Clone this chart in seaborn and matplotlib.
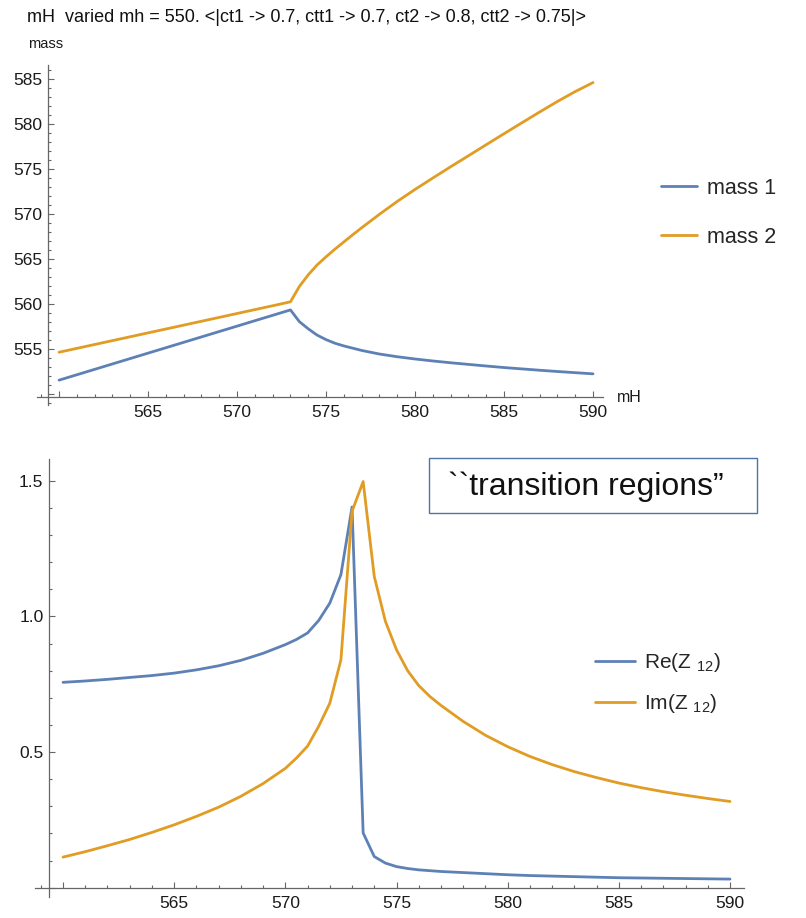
import numpy as np
import pandas as pd
import matplotlib
matplotlib.use("Agg")
import matplotlib.pyplot as plt
import seaborn as sns
from matplotlib.ticker import FixedLocator, MultipleLocator, FuncFormatter
from matplotlib.patches import Rectangle

# ---------------- data ----------------
mH = [560, 561, 562, 563, 564, 565, 566, 567, 568, 569, 570,
      570.5, 571, 571.5, 572, 572.5, 573, 573.5, 574, 574.5, 575, 575.5, 576, 576.5,
      577, 578, 579, 580, 581, 582, 583, 584, 585, 586, 587, 588, 589, 590]

mass1 = [551.5, 552.1, 552.7, 553.3, 553.9, 554.5, 555.1, 555.7, 556.3, 556.9, 557.5,
         557.8, 558.1, 558.4, 558.7, 559.0, 559.3, 558.0, 557.2, 556.5, 556.0, 555.6, 555.3, 555.05,
         554.8, 554.4, 554.1, 553.85, 553.63, 553.43, 553.25, 553.07, 552.9, 552.75, 552.6, 552.46, 552.33, 552.2]

mass2 = [554.6, 555.03, 555.46, 555.89, 556.32, 556.75, 557.18, 557.61, 558.04, 558.47, 558.9,
         559.12, 559.33, 559.55, 559.76, 559.98, 560.2, 561.9, 563.2, 564.3, 565.2, 566.05, 566.85, 567.65,
         568.42, 569.92, 571.35, 572.68, 573.95, 575.2, 576.42, 577.65, 578.87, 580.08, 581.28, 582.45, 583.55, 584.55]

re_z12 = [0.757, 0.762, 0.768, 0.775, 0.782, 0.791, 0.803, 0.818, 0.838, 0.864, 0.896,
          0.915, 0.939, 0.985, 1.049, 1.154, 1.403, 0.202, 0.115, 0.091, 0.078, 0.071, 0.066, 0.063,
          0.060, 0.056, 0.052, 0.048, 0.045, 0.043, 0.041, 0.039, 0.037, 0.036, 0.035, 0.034, 0.033, 0.032]

im_z12 = [0.113, 0.133, 0.155, 0.178, 0.204, 0.232, 0.263, 0.297, 0.337, 0.384, 0.440,
          0.478, 0.522, 0.595, 0.680, 0.840, 1.387, 1.497, 1.147, 0.982, 0.877, 0.800, 0.745, 0.705,
          0.672, 0.613, 0.562, 0.520, 0.484, 0.454, 0.428, 0.406, 0.386, 0.369, 0.354, 0.341, 0.329, 0.318]

top_labels = ["mass 1", "mass 2"]
bottom_labels = ["Re(Z $_{12}$)", "Im(Z $_{12}$)"]
title_text = "mH  varied mh = 550. <|ct1 -> 0.7, ctt1 -> 0.7, ct2 -> 0.8, ctt2 -> 0.75|>"
box_text = "``transition regions\u201d"

BLUE = "#5E81B5"
ORANGE = "#E19C24"
AXC = "#666666"

# ---------------- style ----------------
sns.set_theme(style="white")
plt.rcParams["font.family"] = ["Liberation Sans", "DejaVu Sans"]
plt.rcParams["mathtext.fontset"] = "custom"
plt.rcParams["mathtext.rm"] = "Liberation Sans"
plt.rcParams["mathtext.it"] = "Liberation Sans"
plt.rcParams["mathtext.default"] = "regular"

W, H = 806, 918
fig = plt.figure(figsize=(W / 100, H / 100), dpi=100)


def fx(px):
    return px / W


def fy(py):
    return 1 - py / H


ax1 = fig.add_axes([fx(37), fy(405), fx(603) - fx(37), fy(65) - fy(405)])
ax2 = fig.add_axes([fx(35), fy(897), fx(744) - fx(35), fy(459) - fy(897)])

df_top = pd.DataFrame({
    "mH": mH * 2,
    "value": mass1 + mass2,
    "series": [top_labels[0]] * len(mH) + [top_labels[1]] * len(mH),
})
df_bot = pd.DataFrame({
    "mH": mH * 2,
    "value": re_z12 + im_z12,
    "series": [bottom_labels[0]] * len(mH) + [bottom_labels[1]] * len(mH),
})

sns.lineplot(data=df_top, x="mH", y="value", hue="series", palette=[BLUE, ORANGE],
             ax=ax1, linewidth=2.0, legend=False, sort=False)
sns.lineplot(data=df_bot, x="mH", y="value", hue="series", palette=[BLUE, ORANGE],
             ax=ax2, linewidth=2.0, legend=False, sort=False)


def style_axes(ax, xlim, ylim, xorig, yorig, xmajor, ymajor, xlabels_skip, ylabels_skip,
               yminor, yfmt):
    ax.set_xlim(*xlim)
    ax.set_ylim(*ylim)
    ax.set_xlabel("")
    ax.set_ylabel("")
    ax.patch.set_alpha(0)
    for s in ["top", "right"]:
        ax.spines[s].set_visible(False)
    ax.spines["left"].set_position(("data", xorig))
    ax.spines["bottom"].set_position(("data", yorig))
    for s in ["left", "bottom"]:
        ax.spines[s].set_color(AXC)
        ax.spines[s].set_linewidth(0.9)
    ax.xaxis.set_major_locator(FixedLocator(xmajor))
    ax.yaxis.set_major_locator(FixedLocator(ymajor))
    ax.xaxis.set_minor_locator(MultipleLocator(1))
    ax.yaxis.set_minor_locator(MultipleLocator(yminor))
    ax.xaxis.set_major_formatter(FuncFormatter(lambda v, p: "" if v in xlabels_skip else f"{v:g}"))
    ax.yaxis.set_major_formatter(FuncFormatter(lambda v, p: "" if v in ylabels_skip else yfmt(v)))
    ax.tick_params(which="both", direction="in", color=AXC, width=0.8, labelsize=12.5,
                   labelcolor="#1a1a1a", bottom=True, left=True)
    ax.tick_params(which="major", length=4.5)
    ax.tick_params(which="minor", length=2.5)
    ax.tick_params(axis="x", which="major", pad=6)
    ax.tick_params(axis="y", which="major", pad=4)
    ax.grid(False)


style_axes(ax1, (558.76, 590.56), (548.74, 586.5), 559.37, 549.63,
           [560, 565, 570, 575, 580, 585, 590], [550, 555, 560, 565, 570, 575, 580, 585],
           [560], [550], 1, lambda v: f"{v:g}")
style_axes(ax2, (558.74, 590.63), (-0.034, 1.58), 559.37, 0.0,
           [560, 565, 570, 575, 580, 585, 590], [0.0, 0.5, 1.0, 1.5],
           [560], [0.0], 0.1, lambda v: f"{v:.1f}")

# texts
fig.text(fx(27), fy(18), title_text, fontsize=13, va="center", ha="left", color="#111111")
fig.text(fx(28), fy(44), "mass", fontsize=10.5, va="center", ha="left", color="#1a1a1a")
fig.text(fx(617), fy(397), "mH", fontsize=11.5, va="center", ha="left", color="#1a1a1a")

# legends
h1 = ax1.get_lines()[:2]
fig.legend(h1, top_labels, loc="center left", bbox_to_anchor=(fx(661), fy(213)),
           frameon=False, fontsize=15.5, handlelength=1.65, handletextpad=0.5,
           labelspacing=1.3, borderpad=0, borderaxespad=0)
h2 = ax2.get_lines()[:2]
fig.legend(h2, bottom_labels, loc="center left", bbox_to_anchor=(fx(595), fy(683)),
           frameon=False, fontsize=15, handlelength=1.9, handletextpad=0.45,
           labelspacing=0.85, borderpad=0, borderaxespad=0)

# annotation box
fig.patches.append(Rectangle((fx(429), fy(513)), fx(757) - fx(429), fy(458) - fy(513),
                             transform=fig.transFigure, fill=False, edgecolor="#5073A8",
                             linewidth=1.0))
fig.text(fx(448), fy(487), box_text, fontsize=23, va="center", ha="left", color="#111111")

fig.savefig("out.png", dpi=100)
